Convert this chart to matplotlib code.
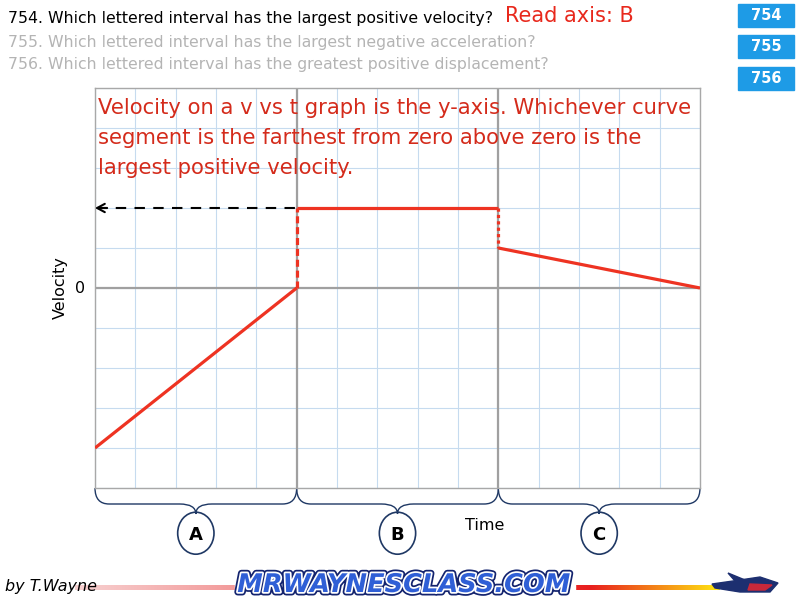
import numpy as np
import matplotlib.pyplot as plt
from matplotlib.path import Path
from matplotlib import patches
import matplotlib.patheffects as pe

# velocity vs time, three intervals
seg_labels = ['A', 'B', 'C']
seg_t = [(0, 5), (5, 10), (10, 15)]
seg_v = [(-4, 0), (2, 2), (1, 0)]
jump_t = [5, 10]
jump_v = [(0, 2), (2, 1)]
jump_style = [(0, (2.2, 1.2)), (0, (1, 1))]
arrow_v = 2

question_main = "754. Which lettered interval has the largest positive velocity?"
questions_grey = ["755. Which lettered interval has the largest negative acceleration?",
                  "756. Which lettered interval has the greatest positive displacement?"]
answer = "Read axis: B"
buttons = ['754', '755', '756']
note_lines = ["Velocity on a v vs t graph is the y-axis. Whichever curve",
              "segment is the farthest from zero above zero is the",
              "largest positive velocity."]

red = '#ee3322'
navy = '#1f3864'

fig = plt.figure(figsize=(8, 6), dpi=100)
ax = fig.add_axes([95/800, 1-488/600, 605/800, 400/600])
ax.set_xlim(0, 15)
ax.set_ylim(-5, 5)
ax.set_xticks(range(16))
ax.set_yticks(range(-5, 6))
ax.grid(color='#c6dbef', lw=0.8)
ax.tick_params(length=0, labelbottom=False, labelleft=False)
for s in ax.spines.values():
    s.set_color('#a8a8a8')
    s.set_linewidth(1)
ax.axhline(0, color='#a0a0a0', lw=1.6)
for t in jump_t:
    ax.axvline(t, color='#a0a0a0', lw=1.6)

for t, v in zip(seg_t, seg_v):
    ax.plot(t, v, color=red, lw=2.3, solid_capstyle='butt', zorder=5)
for t, v, ls in zip(jump_t, jump_v, jump_style):
    ax.plot([t, t], v, color=red, lw=2.3, linestyle=ls, zorder=5)

# dashed read-off line to the velocity axis
ax.plot([0.05, seg_t[1][0]], [arrow_v, arrow_v], color='black', lw=1.5,
        linestyle=(0, (5, 4)), zorder=4)
arr = ax.annotate('', xy=(0, arrow_v), xytext=(0.3, arrow_v),
                  arrowprops=dict(arrowstyle='->, head_length=0.55, head_width=0.3', color='black',
                                  lw=1.5, shrinkA=0, shrinkB=0), zorder=4)
arr.arrow_patch.set_clip_on(False)

ax.text(-0.25, 0, '0', ha='right', va='center', fontsize=11.5)
ax.text(-0.85, 0, 'Velocity', rotation=90, ha='center', va='center', fontsize=11.5)
ax.text(9.65, -5.95, 'Time', ha='center', va='center', fontsize=11.5)

# braces and lettered circles under each interval
for lab, (t0, t1) in zip(seg_labels, seg_t):
    m = (t0 + t1) / 2
    verts = [(t0, -5.0), (t0, -5.4), (t0 + 0.35, -5.4), (t0 + 0.35, -5.4),
             (m - 0.4, -5.4), (m - 0.4, -5.4), (m, -5.4), (m, -5.65),
             (m, -5.4), (m + 0.4, -5.4), (m + 0.4, -5.4),
             (t1 - 0.35, -5.4), (t1 - 0.35, -5.4), (t1, -5.4), (t1, -5.0)]
    codes = [Path.MOVETO, Path.CURVE3, Path.CURVE3, Path.LINETO,
             Path.LINETO, Path.LINETO, Path.CURVE3, Path.CURVE3,
             Path.CURVE3, Path.CURVE3, Path.LINETO,
             Path.LINETO, Path.LINETO, Path.CURVE3, Path.CURVE3]
    ax.add_patch(patches.PathPatch(Path(verts, codes), fill=False, color=navy, lw=1, clip_on=False))
    ax.add_patch(patches.Ellipse((m, -6.13), 0.9, 1.05, fill=False, ec=navy, lw=1.2, clip_on=False))
    ax.text(m, -6.17, lab, ha='center', va='center', fontsize=13, fontweight='bold')

# page overlay in pixel coordinates
ov = fig.add_axes([0, 0, 1, 1], zorder=10)
ov.set_xlim(0, 800)
ov.set_ylim(600, 0)
ov.axis('off')
ov.patch.set_alpha(0)

ov.text(8, 19, question_main, fontsize=11.3, va='center', color='black')
for i, q in enumerate(questions_grey):
    ov.text(8, 43 + 22*i, q, fontsize=11.3, va='center', color='#b4b4b4')
ov.text(505, 16, answer, fontsize=15, va='center', color='#e8281c')
for i, b in enumerate(buttons):
    y0 = [4, 35, 67][i]
    ov.add_patch(patches.Rectangle((738, y0), 56, 23, color='#1e9be6'))
    ov.text(766, y0 + 11.5, b, ha='center', va='center', color='white', fontsize=10.5, fontweight='bold')

for i, line in enumerate(note_lines):
    ov.text(98, 108 + 30*i, line, fontsize=15.2, va='center', color='#d42b1b')

# footer
ov.text(5, 587, 'by T.Wayne', fontsize=11.5, style='italic', va='center')
grad = np.linspace(0, 1, 300)
cols = []
for g in grad:
    if g < 0.8:
        k = g / 0.8
        cols.append([0.97 - 0.06*k, 0.82 - 0.7*k, 0.82 - 0.7*k])
    else:
        k = (g - 0.8) / 0.2
        cols.append([0.91 + 0.09*k, 0.12 + 0.78*k, 0.12 - 0.05*k])
ov.imshow([cols], extent=(75, 720, 590, 585), aspect='auto', zorder=1)
ov.add_patch(patches.Rectangle((235, 572), 340, 26, color='white', zorder=2))
ov.text(404, 585, 'MRWAYNESCLASS.COM', fontsize=18.5, fontweight='heavy', style='italic',
        ha='center', va='center', color='#2f5fd6', zorder=3,
        path_effects=[pe.Stroke(linewidth=5, foreground='#13236e'),
                      pe.Stroke(linewidth=2.5, foreground='white'), pe.Normal()])
jet = [(712, 584), (740, 580), (760, 577), (778, 583), (770, 592), (740, 592), (715, 588)]
ov.add_patch(patches.Polygon(jet, color='#1d2f70', zorder=3))
ov.add_patch(patches.Polygon([(728, 573), (745, 580), (735, 581)], color='#1d2f70', zorder=3))
ov.add_patch(patches.Polygon([(750, 584), (772, 585), (765, 590), (748, 590)], color='#c8283a', zorder=4))

fig.savefig('out.png', dpi=100)
